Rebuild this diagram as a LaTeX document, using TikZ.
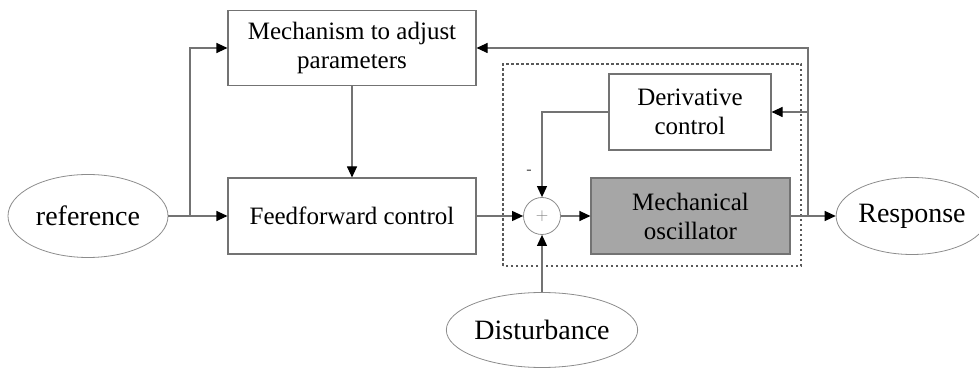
\documentclass[tikz,border=0pt]{standalone}
\usepackage{fontspec}
\setmainfont{Liberation Serif}
\usetikzlibrary{arrows.meta, shapes.geometric}

\begin{document}
\begin{tikzpicture}[
        x=1pt, y=1pt,
        line width=1.1pt,
        wire/.style={draw=black!55},
        arrow/.style={wire, -{Triangle[length=11pt, width=10pt, black]}},
        block/.style={rectangle, draw=black!55, text=black, align=center, font=\fontsize{25}{29}\selectfont, inner sep=0pt},
        signal/.style={ellipse, draw=black!45, line width=0.8pt, text=black, font=\fontsize{28}{32}\selectfont, inner sep=0pt},
        junction/.style={circle, draw=black!45, line width=0.8pt, minimum size=37pt, inner sep=0pt}
    ]
        \useasboundingbox (0,0) rectangle (979,369);

        % Signals
        \node[signal, minimum width=160pt, minimum height=83pt] (ref) at (88,153) {reference};
        \node[signal, minimum width=131pt, minimum height=77pt] (resp) at (912,153) {Response};
        \node[signal, minimum width=162pt, minimum height=75pt] (dist) at (542,39) {Disturbance};

        % Blocks
        \node[block, minimum width=248pt, minimum height=75pt] (mech) at (352,321) {Mechanism to adjust\\parameters};
        \node[block, minimum width=248pt, minimum height=76pt] (ff) at (352,153) {Feedforward control};
        \node[block, minimum width=162pt, minimum height=76pt] (deriv) at (690,257) {Derivative\\control};
        \node[block, fill=black!35, minimum width=199pt, minimum height=76pt] (osc) at (690.5,153) {Mechanical\\oscillator};

        % Summing junction
        \node[junction] (sum) at (542,153) {\fontsize{16}{16}\selectfont\color{black!50}$+$};
        \node[text=black!70, font=\fontsize{16}{16}\selectfont] (minus) at (529,197) {-};

        % Controller boundary
        \draw[black!65, line width=1.6pt, dash pattern=on 2.5pt off 2.5pt] (503,103) rectangle (801,305);

        % Branch points
        \coordinate (split) at (190,153);
        \coordinate (tap) at (808,153);

        % Connections
        \draw[wire] (ref.east) -- (split);
        \draw[arrow] (split) -- (ff.west);
        \draw[arrow] (split) |- (mech.west);
        \draw[arrow] (mech.south) -- (ff.north);
        \draw[arrow] (ff.east) -- (sum.west);
        \draw[arrow] (sum.east) -- (osc.west);
        \draw[arrow] (dist.north) -- (sum.south);
        \draw[arrow] (deriv.west) -| (sum.north);
        \draw[arrow] (osc.east) -- (resp.west);
        \draw[arrow] (tap) |- (mech.east);
        \draw[arrow] (tap |- deriv.east) -- (deriv.east);
    \end{tikzpicture}
\end{document}
